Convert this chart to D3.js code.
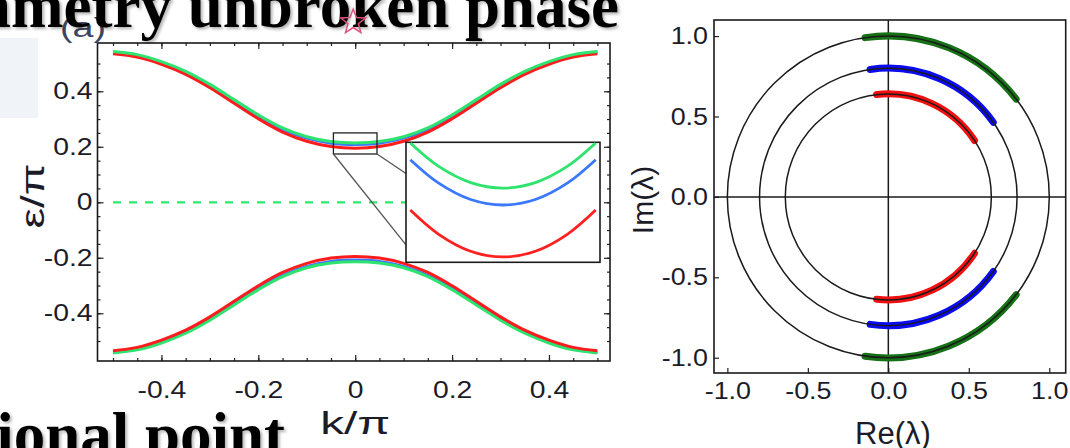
<!DOCTYPE html>
<html>
<head>
<meta charset="utf-8">
<script src="https://cdn.jsdelivr.net/npm/d3@7"></script>
<style>
  body { margin: 0; background: #fff; }
  svg { display: block; }
  .tick text { font-family: "Liberation Sans", Arial, sans-serif; fill: #1c1c28; }
  .tick line { stroke: #222; stroke-width: 1.2; }
</style>
</head>
<body>
<div id="chart"></div>
<script>
// band structure, panel (a)
const kValues = [-0.5, -0.45, -0.4, -0.35, -0.3, -0.25, -0.2, -0.15, -0.1, -0.05, 0,
                 0.05, 0.1, 0.15, 0.2, 0.25, 0.3, 0.35, 0.4, 0.45, 0.5];
const upperGreen = [0.543, 0.532, 0.507, 0.472, 0.425, 0.37, 0.315, 0.268, 0.236, 0.219, 0.214,
                    0.219, 0.236, 0.268, 0.315, 0.37, 0.425, 0.472, 0.507, 0.532, 0.543];
const upperBlue = [0.541, 0.529, 0.504, 0.468, 0.421, 0.366, 0.31, 0.263, 0.231, 0.213, 0.208,
                   0.213, 0.231, 0.263, 0.31, 0.366, 0.421, 0.468, 0.504, 0.529, 0.541];
const upperRed = [0.535, 0.523, 0.497, 0.461, 0.413, 0.357, 0.301, 0.253, 0.22, 0.201, 0.195,
                  0.201, 0.22, 0.253, 0.301, 0.357, 0.413, 0.461, 0.497, 0.523, 0.535];
const lowerGreen = [-0.543, -0.532, -0.507, -0.472, -0.425, -0.37, -0.315, -0.268, -0.236, -0.219, -0.214,
                    -0.219, -0.236, -0.268, -0.315, -0.37, -0.425, -0.472, -0.507, -0.532, -0.543];
const lowerBlue = [-0.541, -0.529, -0.504, -0.468, -0.421, -0.366, -0.31, -0.263, -0.231, -0.213, -0.208,
                   -0.213, -0.231, -0.263, -0.31, -0.366, -0.421, -0.468, -0.504, -0.529, -0.541];
const lowerRed = [-0.535, -0.523, -0.497, -0.461, -0.413, -0.357, -0.301, -0.253, -0.22, -0.201, -0.195,
                  -0.201, -0.22, -0.253, -0.301, -0.357, -0.413, -0.461, -0.497, -0.523, -0.535];

// zoomed inset near k = 0
const insetK = [-0.043, -0.03, -0.015, 0, 0.015, 0.03, 0.043];
const insetGreen = [0.2496, 0.2349, 0.2245, 0.221, 0.2245, 0.2349, 0.2496];
const insetBlue = [0.239, 0.2243, 0.2138, 0.2103, 0.2138, 0.2243, 0.239];
const insetRed = [0.2071, 0.1919, 0.181, 0.1774, 0.181, 0.1919, 0.2071];
const zoomBoxK = [-0.045, 0.045];
const zoomBoxE = [0.174, 0.25];

const xTicksA = [-0.4, -0.2, 0, 0.2, 0.4];
const yTicksA = [-0.4, -0.2, 0, 0.2, 0.4];

// eigenvalues on circles, panel (b)
const ringRadii = [1.0, 0.8, 0.64];
const ringColors = ['#167016', '#0b0bf0', '#f01010'];
const arcFromDeg = [98.3, 98.1, 96.5];
const arcToDeg = [37.4, 35.4, 33.2];
const ticksB = [-1.0, -0.5, 0.0, 0.5, 1.0];

const width = 1070, height = 448;
const svg = d3.select('#chart').append('svg')
    .attr('width', width)
    .attr('height', height);

const defs = svg.append('defs');
defs.append('filter').attr('id', 'shadow')
    .append('feDropShadow')
    .attr('dx', 2).attr('dy', 2).attr('stdDeviation', 1.5)
    .attr('flood-color', '#000').attr('flood-opacity', 0.3);

// faint slide background patch on the left
svg.append('rect')
    .attr('x', 0).attr('y', 38).attr('width', 38).attr('height', 80)
    .attr('fill', '#f0f3f8');

function stretch(sel, factor) {
    sel.each(function() {
        const w = this.getComputedTextLength();
        d3.select(this).attr('textLength', w * factor).attr('lengthAdjust', 'spacingAndGlyphs');
    });
}

// ---------- panel (a) ----------
const xA = d3.scaleLinear().domain([-0.532, 0.526]).range([97.5, 610]);
const yA = d3.scaleLinear().domain([-0.572, 0.574]).range([361, 43]);
const minorA = d3.range(-0.5, 0.501, 0.05).map(v => +v.toFixed(2));
const fmtA = d => String(+d.toFixed(1));

const gA = svg.append('g');

function frameTicks(g, axisFn, scale, values, size, fmt, pad, pos) {
    return g.append('g')
        .attr('transform', pos)
        .call(axisFn(scale).tickValues(values).tickSizeInner(-size).tickSizeOuter(0)
            .tickPadding(pad).tickFormat(fmt))
        .call(s => s.select('.domain').remove());
}

// minor ticks on all four sides
frameTicks(gA, d3.axisBottom, xA, minorA, 3, '', 0, `translate(0,${yA.range()[0]})`);
frameTicks(gA, d3.axisTop, xA, minorA, 3, '', 0, `translate(0,${yA.range()[1]})`);
frameTicks(gA, d3.axisLeft, yA, minorA, 3, '', 0, `translate(${xA.range()[0]},0)`);
frameTicks(gA, d3.axisRight, yA, minorA, 3, '', 0, `translate(${xA.range()[1]},0)`);
// major ticks
const xAxisA = frameTicks(gA, d3.axisBottom, xA, xTicksA, 6, fmtA, 20, `translate(0,${yA.range()[0]})`);
const yAxisA = frameTicks(gA, d3.axisLeft, yA, yTicksA, 6, fmtA, 5, `translate(${xA.range()[0]},0)`);
frameTicks(gA, d3.axisTop, xA, xTicksA, 6, '', 0, `translate(0,${yA.range()[1]})`);
frameTicks(gA, d3.axisRight, yA, yTicksA, 6, '', 0, `translate(${xA.range()[1]},0)`);
[xAxisA, yAxisA].forEach(ax => {
    ax.selectAll('text').attr('font-size', 24);
    stretch(ax.selectAll('text'), 1.18);
});

gA.append('rect')
    .attr('x', xA.range()[0]).attr('y', yA.range()[1])
    .attr('width', xA.range()[1] - xA.range()[0])
    .attr('height', yA.range()[0] - yA.range()[1])
    .attr('fill', 'none').attr('stroke', '#1a1a1a').attr('stroke-width', 1.6);

// zero line
gA.append('line')
    .attr('x1', xA(-0.5)).attr('x2', xA(0.5))
    .attr('y1', yA(0)).attr('y2', yA(0))
    .attr('stroke', '#2ee86a').attr('stroke-width', 2.2)
    .attr('stroke-dasharray', '8,8');

const lineA = d3.line()
    .x((d, i) => xA(kValues[i]))
    .y(d => yA(d))
    .curve(d3.curveCatmullRom);

const bands = [
    { values: upperBlue, color: '#3a78ff' },
    { values: upperRed, color: '#ff1c1c' },
    { values: upperGreen, color: '#2ee46e' },
    { values: lowerBlue, color: '#3a78ff' },
    { values: lowerGreen, color: '#2ee46e' },
    { values: lowerRed, color: '#ff1c1c' }
];
bands.forEach(b => {
    gA.append('path')
        .datum(b.values)
        .attr('d', lineA)
        .attr('fill', 'none')
        .attr('stroke', b.color)
        .attr('stroke-width', 3);
});

// small zoom box and inset
const boxX0 = xA(zoomBoxK[0]), boxX1 = xA(zoomBoxK[1]);
const boxY0 = yA(zoomBoxE[1]), boxY1 = yA(zoomBoxE[0]);
gA.append('rect')
    .attr('x', boxX0).attr('y', boxY0)
    .attr('width', boxX1 - boxX0).attr('height', boxY1 - boxY0)
    .attr('fill', 'none').attr('stroke', '#222').attr('stroke-width', 1.3);

const xIn = d3.scaleLinear().domain(zoomBoxK).range([406, 600]);
const yIn = d3.scaleLinear().domain(zoomBoxE).range([262.3, 142.3]);

const connectors = [
    { from: [zoomBoxK[1], zoomBoxE[0]], to: [zoomBoxK[0], 0.2302] },
    { from: [zoomBoxK[0], zoomBoxE[0]], to: [zoomBoxK[0], 0.185] }
];
connectors.forEach(c => {
    gA.append('line')
        .attr('x1', xA(c.from[0])).attr('y1', yA(c.from[1]))
        .attr('x2', xIn(c.to[0])).attr('y2', yIn(c.to[1]))
        .attr('stroke', '#555').attr('stroke-width', 1.3);
});

gA.append('rect')
    .attr('x', xIn.range()[0]).attr('y', yIn.range()[1])
    .attr('width', xIn.range()[1] - xIn.range()[0])
    .attr('height', yIn.range()[0] - yIn.range()[1])
    .attr('fill', '#fff').attr('stroke', '#1a1a1a').attr('stroke-width', 1.6);

defs.append('clipPath').attr('id', 'insetClip')
    .append('rect')
    .attr('x', xIn.range()[0]).attr('y', yIn.range()[1])
    .attr('width', xIn.range()[1] - xIn.range()[0])
    .attr('height', yIn.range()[0] - yIn.range()[1]);

const lineIn = d3.line()
    .x((d, i) => xIn(insetK[i]))
    .y(d => yIn(d))
    .curve(d3.curveCatmullRom);
[[insetRed, '#ff2020'], [insetBlue, '#3a78ff'], [insetGreen, '#2ee46e']].forEach(([vals, col]) => {
    gA.append('path')
        .datum(vals)
        .attr('clip-path', 'url(#insetClip)')
        .attr('d', lineIn)
        .attr('fill', 'none')
        .attr('stroke', col)
        .attr('stroke-width', 2.8);
});

// axis labels (a)
gA.append('text')
    .attr('transform', `translate(44,196) rotate(-90)`)
    .attr('text-anchor', 'middle')
    .attr('font-family', 'Liberation Sans, Arial, sans-serif')
    .attr('font-size', 34)
    .attr('fill', '#1c1c28')
    .attr('textLength', 65).attr('lengthAdjust', 'spacingAndGlyphs')
    .text('ε/π');
gA.append('text')
    .attr('x', xA(0)).attr('y', 434)
    .attr('text-anchor', 'middle')
    .attr('font-family', 'Liberation Sans, Arial, sans-serif')
    .attr('font-size', 31)
    .attr('fill', '#1c1c28')
    .attr('textLength', 70).attr('lengthAdjust', 'spacingAndGlyphs')
    .text('k/π');
gA.append('text')
    .attr('x', 60).attr('y', 37)
    .attr('font-family', 'Liberation Sans, Arial, sans-serif')
    .attr('font-size', 28)
    .attr('fill', '#3c4660')
    .attr('textLength', 46).attr('lengthAdjust', 'spacingAndGlyphs')
    .text('(a)');

// ---------- panel (b) ----------
const xB = d3.scaleLinear().domain([-1.083, 1.102]).range([714, 1065.7]);
const yB = d3.scaleLinear().domain([-1.095, 1.1]).range([373, 20]);
const fmtB = d => d.toFixed(1);
const gB = svg.append('g');

const xAxisB = frameTicks(gB, d3.axisBottom, xB, ticksB, 5, fmtB, 9, `translate(0,${yB.range()[0]})`);
const yAxisB = frameTicks(gB, d3.axisLeft, yB, ticksB, 5, fmtB, 6, `translate(${xB.range()[0]},0)`);
[xAxisB, yAxisB].forEach(ax => {
    ax.selectAll('text').attr('font-size', 24);
    stretch(ax.selectAll('text'), 1.12);
});

gB.append('rect')
    .attr('x', xB.range()[0]).attr('y', yB.range()[1])
    .attr('width', xB.range()[1] - xB.range()[0])
    .attr('height', yB.range()[0] - yB.range()[1])
    .attr('fill', 'none').attr('stroke', '#1a1a1a').attr('stroke-width', 1.6);

gB.append('line')
    .attr('x1', xB(0)).attr('x2', xB(0))
    .attr('y1', yB.range()[1]).attr('y2', yB.range()[0])
    .attr('stroke', '#1a1a1a').attr('stroke-width', 1.5);
gB.append('line')
    .attr('x1', xB.range()[0]).attr('x2', xB.range()[1])
    .attr('y1', yB(0)).attr('y2', yB(0))
    .attr('stroke', '#1a1a1a').attr('stroke-width', 1.5);

const cx = xB(0), cy = yB(0);
const rad = Math.PI / 180;
ringRadii.forEach((r, i) => {
    const rp = xB(r) - xB(0);
    [1, -1].forEach(side => {
        const p = d3.path();
        const a0 = -side * arcFromDeg[i] * rad, a1 = -side * arcToDeg[i] * rad;
        p.moveTo(cx + rp * Math.cos(a0), cy + rp * Math.sin(a0));
        p.arc(cx, cy, rp, a0, a1, side < 0);
        gB.append('path')
            .attr('d', p.toString())
            .attr('fill', 'none')
            .attr('stroke', ringColors[i])
            .attr('stroke-width', 7)
            .attr('stroke-linecap', 'round');
    });
});
ringRadii.forEach(r => {
    gB.append('circle')
        .attr('cx', cx).attr('cy', cy)
        .attr('r', xB(r) - xB(0))
        .attr('fill', 'none')
        .attr('stroke', '#1a1a1a')
        .attr('stroke-width', 1.5);
});

gB.append('text')
    .attr('transform', `translate(653,200) rotate(-90)`)
    .attr('text-anchor', 'middle')
    .attr('font-family', 'Liberation Sans, Arial, sans-serif')
    .attr('font-size', 30)
    .attr('fill', '#1c1c28')
    .text('Im(λ)');
gB.append('text')
    .attr('x', 893).attr('y', 444)
    .attr('text-anchor', 'middle')
    .attr('font-family', 'Liberation Sans, Arial, sans-serif')
    .attr('font-size', 31)
    .attr('fill', '#1c1c28')
    .text('Re(λ)');

// ---------- slide text over the figure ----------
const starR = 13, starr = 5.5;
const starPts = d3.range(10).map(j => {
    const a = -Math.PI / 2 + j * Math.PI / 5;
    const rr = j % 2 ? starr : starR;
    return [xA(0) - 2 + rr * Math.cos(a), 22 + rr * Math.sin(a)];
});

svg.append('text')
    .attr('x', 619).attr('y', 27)
    .attr('text-anchor', 'end')
    .attr('font-family', 'Liberation Serif, Times New Roman, serif')
    .attr('font-weight', 'bold')
    .attr('font-size', 63)
    .attr('filter', 'url(#shadow)')
    .text('symmetry unbroken phase');
// star outline shows through the title
svg.append('path')
    .attr('d', 'M' + starPts.join('L') + 'Z')
    .attr('fill', 'none')
    .attr('stroke', '#e0507c')
    .attr('stroke-width', 1.5);
svg.append('text')
    .attr('x', 285).attr('y', 456)
    .attr('text-anchor', 'end')
    .attr('font-family', 'Liberation Serif, Times New Roman, serif')
    .attr('font-weight', 'bold')
    .attr('font-size', 63)
    .attr('filter', 'url(#shadow)')
    .text('exceptional point');
</script>
</body>
</html>
